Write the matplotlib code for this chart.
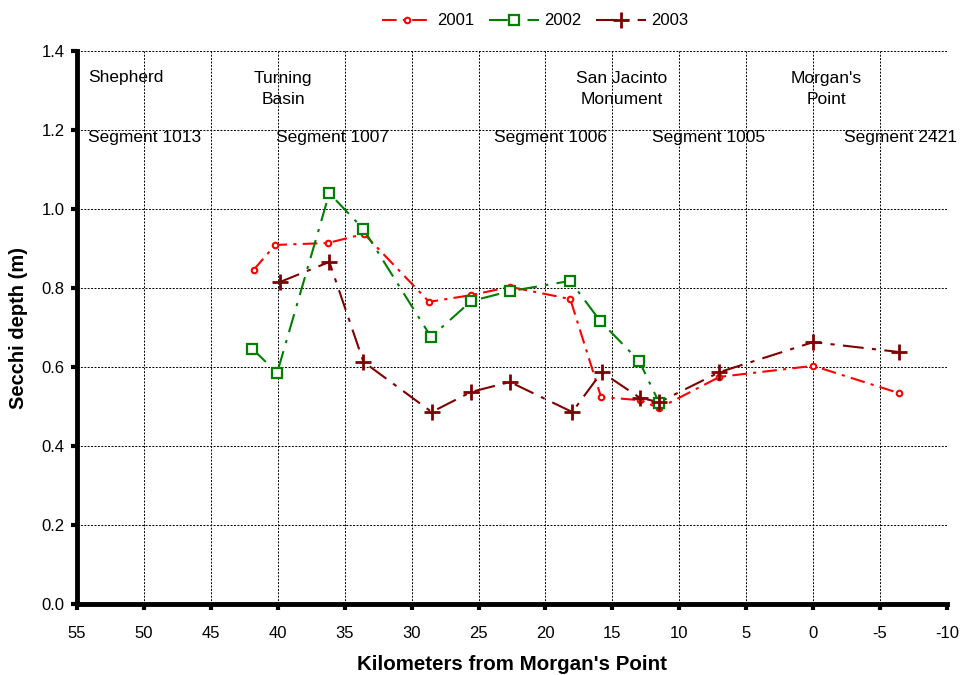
import matplotlib
matplotlib.use("Agg")
import matplotlib.pyplot as plt
from matplotlib.lines import Line2D

plt.rcParams['font.family'] = ['Liberation Sans', 'DejaVu Sans']

# Secchi depth surveys along the channel (km from Morgan's Point, metres)
km_2001 = [41.8, 40.2, 36.25, 33.55, 28.7, 25.55, 22.65, 18.15, 15.85, 12.95, 11.5, 7.0, 0.0, -6.4]
depth_2001 = [0.846, 0.909, 0.914, 0.937, 0.765, 0.782, 0.803, 0.772, 0.524, 0.516, 0.496, 0.575, 0.603, 0.534]

km_2002 = [41.9, 40.05, 36.15, 33.6, 28.55, 25.55, 22.65, 18.15, 15.9, 13.0, 11.5]
depth_2002 = [0.646, 0.585, 1.040, 0.949, 0.676, 0.767, 0.792, 0.818, 0.716, 0.615, 0.509]

km_2003 = [39.85, 36.15, 33.6, 28.5, 25.55, 22.65, 18.0, 15.8, 12.95, 11.5, 7.0, 0.0, -6.4]
depth_2003 = [0.815, 0.866, 0.613, 0.486, 0.537, 0.562, 0.486, 0.587, 0.522, 0.511, 0.587, 0.663, 0.638]

x_ticks = [55, 50, 45, 40, 35, 30, 25, 20, 15, 10, 5, 0, -5, -10]
y_ticks = [0.0, 0.2, 0.4, 0.6, 0.8, 1.0, 1.2, 1.4]

place_labels = [("Shepherd", 54.2, 1.332, "left"),
                ("Turning\nBasin", 39.6, 1.304, "center"),
                ("San Jacinto\nMonument", 14.3, 1.304, "center"),
                ("Morgan's\nPoint", -1.0, 1.304, "center")]
segment_labels = [("Segment 1013", 54.2), ("Segment 1007", 40.1),
                  ("Segment 1006", 23.85), ("Segment 1005", 12.05),
                  ("Segment 2421", -2.3)]

fig = plt.figure(figsize=(9.64, 6.75), dpi=100)
ax = fig.add_axes([0.0799, 0.1052, 0.9025, 0.8192])

series = [
    (km_2001, depth_2001, "2001", "#ff0000", "o", dict(markersize=4, markeredgewidth=1.5,
                                                    markerfacecolor="white"), (7, 3, 1.5, 3)),
    (km_2002, depth_2002, "2002", "#008000", "s", dict(markersize=7, markeredgewidth=1.6,
                                                    markerfacecolor="white"), (9, 4, 1.5, 4)),
    (km_2003, depth_2003, "2003", "#800000", "+", dict(markersize=12, markeredgewidth=2.0), (10, 4, 2, 4)),
]

handles = []
for xs, ys, label, color, marker, mkw, dash in series:
    ax.plot(xs, ys, color=color, linewidth=1.5, dashes=dash, zorder=3)
    ax.plot(xs, ys, linestyle="none", marker=marker, color=color, markeredgecolor=color,
            zorder=4, **mkw)
    handles.append(Line2D([0], [0], color=color, linewidth=1.5, dashes=dash, marker=marker,
                          markeredgecolor=color, **mkw))

ax.set_xlim(55, -10)
ax.set_ylim(0, 1.4)
ax.set_xticks(x_ticks)
ax.set_xticklabels([str(v) for v in x_ticks])
ax.set_yticks(y_ticks)
ax.set_yticklabels([f"{v:.1f}" for v in y_ticks])

ax.set_axisbelow(False)
ax.grid(True, color="black", linestyle=(0, (2, 1.5)), linewidth=0.7, zorder=2.5)

for sp in ("top", "right"):
    ax.spines[sp].set_visible(False)
for sp in ("left", "bottom"):
    ax.spines[sp].set_linewidth(3.5)
    ax.spines[sp].set_zorder(5)

ax.tick_params(axis="both", direction="out", length=4, width=3, labelsize=12, colors="black")
ax.tick_params(axis="x", pad=12)
ax.tick_params(axis="y", pad=5)

for text, xv, yv, ha in place_labels:
    ax.text(xv, yv, text, ha=ha, va="center", fontsize=12.5, linespacing=1.45, zorder=1)
for text, xv in segment_labels:
    ax.text(xv, 1.182, text, ha="left", va="center", fontsize=12.5, zorder=1)

ax.set_xlabel("Kilometers from Morgan's Point", fontsize=14.8, fontweight="bold", labelpad=10)
ax.set_ylabel("Secchi depth (m)", fontsize=14.5, fontweight="bold", labelpad=10)

fig.legend(handles, ["2001", "2002", "2003"], loc="center", bbox_to_anchor=(0.555, 0.969),
           ncol=3, frameon=False, fontsize=12, handlelength=3.0, columnspacing=0.9,
           handletextpad=0.3)

fig.savefig("out.png", dpi=100)
